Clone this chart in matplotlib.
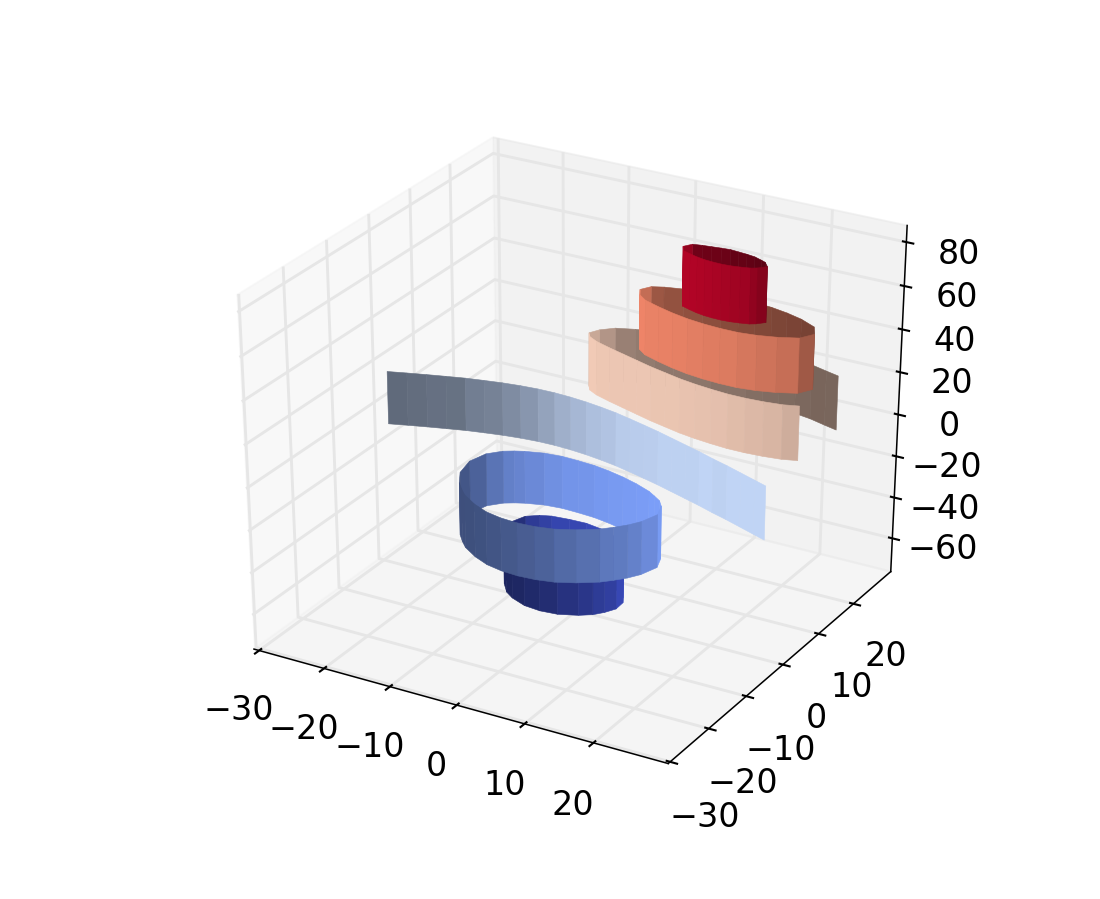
import numpy as np
import matplotlib
matplotlib.use('Agg')
import matplotlib.pyplot as plt
from mpl_toolkits.mplot3d.art3d import Poly3DCollection

levels = [-50, -25, 0, 25, 50, 75]

x_m50 = [-8.8, -8, -6.5, -5, -2.5, 0, 2.5, 5, 6.5, 7.5, 8.2, 8.3, 7.5, 6.5, 5, 2.5, 0, -2.5, -5, -6.5, -8, -8.8]
y_m50 = [-2.2, 0.3, 1.5, 2.1, 2.4, 2.5, 2.0, 1.0, 0.0, -0.9, -2.2, -4.2, -5.8, -7.1, -8.2, -9.3, -9.6, -9.3, -8.2, -7.1, -5.2, -2.2]

x_m25 = [-14.7, -14, -12.5, -11.25, -10, -7.5, -5, -2.5, 0, 2.5, 5, 7.5, 10, 11.25, 12.5, 13.5, 14.3,
         13.5, 12.5, 11.25, 10, 7.5, 5, 2.5, 0, -2.5, -5, -7.5, -10, -11.25, -12.5, -14, -14.7]
y_m25 = [-2.5, 0.5, 2.3, 3.1, 3.7, 4.5, 4.8, 4.7, 4.5, 4.0, 3.3, 2.4, 1.25, 0.4, -0.5, -1.8, -4.2,
         -7, -8.7, -10.2, -11.5, -13.2, -14.4, -15, -15.2, -15, -14.4, -13.2, -11.5, -10.2, -8.7, -6, -2.5]

x_0 = [-30, -27.5, -25, -22.5, -20, -17.5, -15, -12.5, -10, -7.5, -5, -2.5, 0, 2.5, 5, 7.5, 10, 12.5, 15, 17.5, 20, 22.5, 25, 27.5, 29.5]
y_0 = [2.08, 2.97, 3.82, 4.62, 5.4, 6.0, 6.55, 6.95, 7.2, 7.25, 7.1, 6.8, 6.35, 5.8, 5.07, 4.3, 3.5, 2.6, 1.7, 0.8, -0.2, -1.1, -2.1, -3.1, -3.9]

x_25 = [29.5, 27.5, 25, 22.5, 20, 17.5, 15, 12.5, 10, 7.5, 5, 2.5, 0, -2.5, -4, -4.7,
        -4, -2.5, 0, 2.5, 5, 7.5, 10, 12.5, 15, 17.5, 20, 22.5, 25, 27.5, 29.5]
y_25 = [15.3, 15.9, 16.7, 17.2, 17.5, 17.7, 17.8, 17.6, 17.4, 17, 16.5, 16, 15.3, 14.3, 12.8, 11.3,
        10.3, 9.4, 8.45, 7.6, 6.75, 5.9, 5.2, 4.5, 4, 3.65, 3.4, 3.4, 3.6, 4.0, 4.7]

x_50 = [28.6, 27.5, 25, 22.5, 20, 17.5, 15, 12.5, 10, 7.5, 5, 3.5, 2.7, 3.5, 5, 7.5, 10, 12.5, 15, 17.5, 20, 22.5, 25, 27.5, 28.6]
y_50 = [10, 12, 13.35, 14.2, 14.8, 15.1, 15.25, 15.2, 14.9, 14.4, 13.7, 13, 11.5, 10, 8.8, 7.8, 6.95, 6.3, 5.9, 5.7, 5.7, 6.1, 6.85, 8, 10]

x_75 = [21.6, 20.7, 20, 18.75, 17.5, 16.25, 15, 13.75, 12.5, 11.25, 10, 9.3,
        10, 11.25, 12.5, 13.75, 15, 16.25, 17.5, 18.75, 20, 20.7, 21.6]
y_75 = [10.2, 11.3, 11.65, 12.2, 12.45, 12.6, 12.75, 12.6, 12.4, 12.2, 11.9, 10.7,
        9.5, 9, 8.55, 8.25, 8.1, 8.05, 8.15, 8.4, 8.75, 9.2, 10.2]

rings = [(x_m50, y_m50), (x_m25, y_m25), (x_0, y_0), (x_25, y_25), (x_50, y_50), (x_75, y_75)]
half_height = 12.5

fig = plt.figure(figsize=(8, 6.545), dpi=137.5)
ax = fig.add_axes([0.127, 0.1, 0.775, 0.8], projection='3d', computed_zorder=False)
# the reference is stretched to the full axes box, so skip the square fit
ax.apply_aspect = lambda position=None: None
ax.set_box_aspect((1, 1, 1), zoom=0.943)
colors = plt.cm.coolwarm(np.linspace(0, 1, len(levels)))

for i, (level, (xs, ys)) in enumerate(zip(levels, rings)):
    xs = np.array(xs, float)
    ys = np.array(ys, float)
    dx, dy = np.diff(xs), np.diff(ys)
    # old style shading, light from the (-1, -1) side
    shade = (-dy + dx) / np.hypot(dx, dy)
    shade = (shade - shade.min()) / (shade.max() - shade.min())
    faces = []
    for j in range(len(dx)):
        lo, hi = level - half_height, level + half_height
        faces.append([(xs[j], ys[j], lo), (xs[j+1], ys[j+1], lo),
                      (xs[j+1], ys[j+1], hi), (xs[j], ys[j], hi)])
    fc = colors[i].copy() * (0.5 + 0.5 * shade[:, None])
    fc[:, 3] = 1
    band = Poly3DCollection(faces, facecolors=fc, edgecolors=fc, linewidths=0.3, zorder=i + 1)
    ax.add_collection3d(band)

ax.set_xlim(-30.8, 30.7)
ax.set_ylim(-30.5, 31)
ax.set_zlim(-76.5, 87.5)
ax.set_xticks([-30, -20, -10, 0, 10, 20])
ax.set_yticks([-30, -20, -10, 0, 10, 20])
ax.set_zticks([-60, -40, -20, 0, 20, 40, 60, 80])
ax.view_init(elev=30, azim=-60)
ax.tick_params(labelsize=17.5, pad=9.5)
for axis in (ax.xaxis, ax.yaxis, ax.zaxis):
    axis._axinfo['grid'].update(color=(0.9, 0.9, 0.9, 1), linewidth=1.5)
    axis._axinfo['axisline']['linewidth'] = 1.1
    axis._axinfo['tick']['linewidth'] = {True: 1.1, False: 1.0}

plt.savefig('out.png', dpi=137.5)
